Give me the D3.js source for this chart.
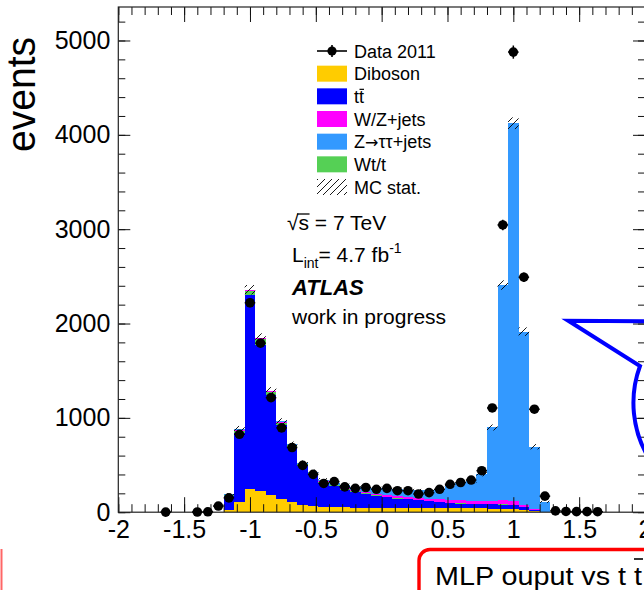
<!DOCTYPE html>
<html>
<head>
<meta charset="utf-8">
<script src="https://cdn.jsdelivr.net/npm/d3@7"></script>
<style>
body { margin: 0; background: #fff; }
svg { display: block; }
text { font-family: "Liberation Sans", Arial, sans-serif; }
</style>
</head>
<body>
<div id="chart"></div>
<script>
var width = 644,
    height = 590;

// histogram binning: 50 bins of 0.08 from -2 to 2
var nBins = 50, xLow = -2, binW = 0.08;

// data 2011 (null = no marker)
var data2011 = [null, null, null, null, 1, null, null, 2, 4, 65,
    152, 826, 2220, 1792, 1214, 894, 686, 496, 401, 305,
    324, 268, 253, 262, 243, 253, 228, 228, 193, 207,
    243, 296, 315, 341, 440, 1105, 3045, 4877, 2491, 1092,
    170, 14, 8, 6, 6, 5, null, null, null, null];

// MC stack, bottom to top
var diboson = [0, 0, 0, 0, 0, 0, 0, 0, 0, 0,
    25, 111, 243, 228, 182, 137, 105, 76, 62, 56,
    52, 50, 48, 47, 46, 45, 44, 43, 42, 42,
    41, 40, 40, 40, 40, 38, 36, 30, 22, 8,
    2, 0, 0, 0, 0, 0, 0, 0, 0, 0];
var ttbar = [0, 0, 0, 0, 0, 0, 0, 0, 0, 0,
    150, 725, 2060, 1545, 1063, 788, 585, 419, 338, 254,
    223, 190, 167, 148, 129, 115, 101, 92, 83, 73,
    64, 58, 52, 48, 45, 44, 44, 45, 33, 17,
    3, 0, 0, 0, 0, 0, 0, 0, 0, 0];
var wtt = [0, 0, 0, 0, 0, 0, 0, 0, 0, 0,
    5, 30, 45, 65, 30, 25, 18, 14, 12, 10,
    9, 8, 7, 6, 6, 5, 5, 5, 4, 4,
    4, 4, 3, 3, 3, 3, 3, 3, 2, 1,
    0, 0, 0, 0, 0, 0, 0, 0, 0, 0];
var wzjets = [0, 0, 0, 0, 0, 0, 0, 0, 0, 0,
    3, 8, 10, 8, 8, 6, 5, 5, 5, 6,
    7, 8, 10, 12, 14, 16, 18, 20, 22, 24,
    26, 28, 30, 32, 34, 38, 45, 45, 20, 8,
    2, 0, 0, 0, 0, 0, 0, 0, 0, 0];
var ztautau = [0, 0, 0, 0, 0, 0, 0, 0, 0, 0,
    5, 5, 0, 5, 5, 8, 8, 10, 12, 15,
    20, 30, 40, 55, 60, 70, 75, 78, 80, 95,
    115, 145, 180, 205, 280, 775, 2280, 4000, 1837, 660,
    103, 0, 0, 0, 0, 0, 0, 0, 0, 0];
// MC statistical uncertainty (hatched band)
var mcStat = [0, 0, 0, 0, 0, 0, 0, 0, 0, 0,
    12, 35, 50, 45, 38, 32, 28, 24, 22, 20,
    18, 16, 16, 16, 16, 16, 16, 16, 16, 16,
    16, 17, 18, 19, 22, 32, 50, 62, 45, 28,
    12, 0, 0, 0, 0, 0, 0, 0, 0, 0];

var xMajor = [-2, -1.5, -1, -0.5, 0, 0.5, 1, 1.5, 2];
var yMajor = [0, 1000, 2000, 3000, 4000, 5000];

var keys = ["diboson", "ttbar", "wtt", "wzjets", "ztautau"];
var colors = {
    diboson: "#ffcc00",
    ttbar: "#0000ff",
    wtt: "#55d055",
    wzjets: "#ff00ff",
    ztautau: "#3399ff"
};
var legendItems = [
    {label: "Data 2011", type: "data"},
    {label: "Diboson", key: "diboson"},
    {label: "tt", key: "ttbar", bar: true},
    {label: "W/Z+jets", key: "wzjets"},
    {label: ["Z", "\u2192", "\u03c4\u03c4+jets"], key: "ztautau"},
    {label: "Wt/t", key: "wtt"},
    {label: "MC stat.", type: "stat"}
];

var svg = d3.select("#chart")
    .append("svg")
    .attr("width", width)
    .attr("height", height);

svg.append("rect").attr("width", width).attr("height", height).attr("fill", "#fff");

var defs = svg.append("defs");
defs.append("pattern")
    .attr("id", "hatch")
    .attr("patternUnits", "userSpaceOnUse")
    .attr("width", 7).attr("height", 7)
    .append("path")
    .attr("d", "M0,7 L7,0 M-1,1 L1,-1 M6,8 L8,6")
    .attr("stroke", "#000")
    .attr("stroke-width", 0.9);

var frame = {left: 118.3, right: 645, top: 7, bottom: 512.2};

var x = d3.scaleLinear().domain([-2, 2]).range([frame.left, frame.right]);
var y = d3.scaleLinear().domain([0, 5355]).range([frame.bottom, frame.top]);

var bins = d3.range(nBins).map(function (i) { return xLow + i * binW; });
var rows = bins.map(function (lo, i) {
    return {
        lo: lo,
        diboson: diboson[i],
        ttbar: ttbar[i],
        wtt: wtt[i],
        wzjets: wzjets[i],
        ztautau: ztautau[i]
    };
});
var stacked = d3.stack().keys(keys)(rows);

// stacked MC
var hist = svg.append("g").attr("class", "hist");
hist.selectAll("g")
    .data(stacked)
    .enter().append("g")
    .attr("fill", function (d) { return colors[d.key]; })
    .selectAll("rect")
    .data(function (d) { return d.filter(function (s) { return s[1] > s[0]; }); })
    .enter().append("rect")
    .attr("shape-rendering", "crispEdges")
    .attr("x", function (s) { return x(s.data.lo); })
    .attr("width", function (s) { return x(s.data.lo + binW) - x(s.data.lo); })
    .attr("y", function (s) { return y(s[1]); })
    .attr("height", function (s) { return y(s[0]) - y(s[1]); });

// MC stat band
var stackTop = stacked[stacked.length - 1];
hist.append("g")
    .selectAll("rect")
    .data(d3.range(nBins).filter(function (i) { return mcStat[i] > 0; }))
    .enter().append("rect")
    .attr("fill", "url(#hatch)")
    .attr("x", function (i) { return x(bins[i]); })
    .attr("width", function (i) { return x(bins[i] + binW) - x(bins[i]); })
    .attr("y", function (i) { return y(stackTop[i][1] + mcStat[i]); })
    .attr("height", function (i) { return y(stackTop[i][1] - mcStat[i]) - y(stackTop[i][1] + mcStat[i]); });

// axes
function fmt(d) { return String(+d.toFixed(1)); }
var xMinor = d3.range(-20, 21).map(function (i) { return i / 10; });
var yMinor = d3.range(0, 5201, 200);

function styleAxis(g) {
    g.select(".domain").remove();
    g.attr("font-size", 25)
        .attr("font-family", "'Liberation Sans', Arial, sans-serif");
    g.selectAll("line").attr("stroke", "#111").attr("stroke-width", 1);
    g.selectAll("text").attr("fill", "#000");
}

svg.append("g").attr("transform", "translate(0," + frame.bottom + ")")
    .call(d3.axisBottom(x).tickValues(xMinor).tickSize(-8).tickFormat(""))
    .call(styleAxis);
svg.append("g").attr("transform", "translate(0," + frame.bottom + ")")
    .call(d3.axisBottom(x).tickValues(xMajor).tickSize(-15).tickPadding(8).tickFormat(fmt))
    .call(styleAxis);
svg.append("g").attr("transform", "translate(0," + frame.top + ")")
    .call(d3.axisTop(x).tickValues(xMinor).tickSize(-8).tickFormat(""))
    .call(styleAxis);
svg.append("g").attr("transform", "translate(0," + frame.top + ")")
    .call(d3.axisTop(x).tickValues(xMajor).tickSize(-15).tickFormat(""))
    .call(styleAxis);
svg.append("g").attr("transform", "translate(" + frame.left + ",0)")
    .call(d3.axisLeft(y).tickValues(yMinor).tickSize(-7).tickFormat(""))
    .call(styleAxis);
svg.append("g").attr("transform", "translate(" + frame.left + ",0)")
    .call(d3.axisLeft(y).tickValues(yMajor).tickSize(-12).tickPadding(8).tickFormat(fmt))
    .call(styleAxis);
svg.append("g").attr("transform", "translate(" + frame.right + ",0)")
    .call(d3.axisRight(y).tickValues(yMinor).tickSize(-7).tickFormat(""))
    .call(styleAxis);
svg.append("g").attr("transform", "translate(" + frame.right + ",0)")
    .call(d3.axisRight(y).tickValues(yMajor).tickSize(-12).tickFormat(""))
    .call(styleAxis);

svg.append("rect")
    .attr("x", frame.left).attr("y", frame.top)
    .attr("width", frame.right - frame.left)
    .attr("height", frame.bottom - frame.top)
    .attr("fill", "none")
    .attr("stroke", "#222")
    .attr("stroke-width", 1.2);

// data points
var pts = svg.append("g").attr("class", "data");
var dataIdx = d3.range(nBins).filter(function (i) { return data2011[i] !== null; });
pts.selectAll("line.ex")
    .data(dataIdx)
    .enter().append("line")
    .attr("x1", function (i) { return x(bins[i]); })
    .attr("x2", function (i) { return x(bins[i] + binW); })
    .attr("y1", function (i) { return y(data2011[i]); })
    .attr("y2", function (i) { return y(data2011[i]); })
    .attr("stroke", "#000").attr("stroke-width", 1.5);
pts.selectAll("line.ey")
    .data(dataIdx)
    .enter().append("line")
    .attr("x1", function (i) { return x(bins[i] + binW / 2); })
    .attr("x2", function (i) { return x(bins[i] + binW / 2); })
    .attr("y1", function (i) { return y(data2011[i] - Math.sqrt(data2011[i])); })
    .attr("y2", function (i) { return y(data2011[i] + Math.sqrt(data2011[i])); })
    .attr("stroke", "#000").attr("stroke-width", 1.5);
pts.selectAll("circle")
    .data(dataIdx)
    .enter().append("circle")
    .attr("cx", function (i) { return x(bins[i] + binW / 2); })
    .attr("cy", function (i) { return y(data2011[i]); })
    .attr("r", 4.8)
    .attr("fill", "#000");

// legend
var legY = d3.scaleLinear().domain([0, 6]).range([51, 187]);
var leg = svg.append("g").attr("class", "legend");
legendItems.forEach(function (d, i) {
    var cy = legY(i);
    if (d.type === "data") {
        leg.append("line").attr("x1", 317).attr("x2", 347).attr("y1", cy).attr("y2", cy)
            .attr("stroke", "#000").attr("stroke-width", 1.6);
        leg.append("line").attr("x1", 332).attr("x2", 332).attr("y1", cy - 6).attr("y2", cy + 6)
            .attr("stroke", "#000").attr("stroke-width", 1.6);
        leg.append("circle").attr("cx", 332).attr("cy", cy).attr("r", 4.6).attr("fill", "#000");
    } else if (d.type === "stat") {
        leg.append("rect").attr("x", 317).attr("y", cy - 8).attr("width", 30).attr("height", 16)
            .attr("fill", "url(#hatch)");
    } else {
        leg.append("rect").attr("x", 317).attr("y", cy - 8).attr("width", 30).attr("height", 16)
            .attr("fill", colors[d.key]);
    }
    var t = leg.append("text")
        .attr("x", 354).attr("y", cy + 6.5)
        .attr("font-size", 18);
    if (Array.isArray(d.label)) {
        t.append("tspan").text(d.label[0]);
        t.append("tspan").attr("font-family", "'DejaVu Sans', sans-serif").attr("font-size", 16).text(d.label[1]);
        t.append("tspan").text(d.label[2]);
    } else {
        t.text(d.label);
    }
    if (d.bar) {
        var e = t.node().getExtentOfChar(1);
        leg.append("line")
            .attr("x1", e.x + 0.5).attr("x2", e.x + e.width)
            .attr("y1", cy - 7).attr("y2", cy - 7)
            .attr("stroke", "#000").attr("stroke-width", 1.2);
    }
});

// labels
var info = svg.append("g").attr("class", "info");
var sq = info.append("text").attr("x", 287).attr("y", 230).attr("font-size", 21)
    .text("\u221as = 7 TeV");
var es = sq.node().getExtentOfChar(1);
var er = sq.node().getExtentOfChar(0);
info.append("line")
    .attr("x1", er.x + er.width - 1.5).attr("x2", es.x + es.width + 0.5)
    .attr("y1", 214).attr("y2", 214)
    .attr("stroke", "#000").attr("stroke-width", 1.3);

var lint = info.append("text").attr("x", 292).attr("y", 262).attr("font-size", 21);
lint.append("tspan").text("L");
lint.append("tspan").attr("font-size", 14).attr("dy", 6).text("int");
lint.append("tspan").attr("dy", -6).text("= 4.7 fb");
lint.append("tspan").attr("font-size", 14).attr("dy", -9).text("-1");

info.append("text").attr("x", 292).attr("y", 295).attr("font-size", 22)
    .attr("font-weight", "bold").attr("font-style", "italic").text("ATLAS");
info.append("text").attr("x", 292).attr("y", 324).attr("font-size", 21)
    .text("work in progress");

// y title
svg.append("text")
    .attr("transform", "translate(35,94.5) rotate(-90)")
    .attr("text-anchor", "middle")
    .attr("font-family", "'Open Sans', sans-serif")
    .attr("font-size", 40)
    .attr("textLength", 115)
    .attr("lengthAdjust", "spacingAndGlyphs")
    .text("events");

// blue callout
svg.append("path")
    .attr("d", "M671,321.5 L568.3,320.7 L640,366 A107,107 0 1 0 671,321.5")
    .attr("fill", "none")
    .attr("stroke", "#0000ff")
    .attr("stroke-width", 4)
    .attr("stroke-linejoin", "miter");

// red caption box
svg.append("rect")
    .attr("x", 419).attr("y", 549.5)
    .attr("width", 300).attr("height", 70)
    .attr("rx", 11)
    .attr("fill", "#fff")
    .attr("stroke", "#ff0000")
    .attr("stroke-width", 3.4);
svg.append("line")
    .attr("x1", 1.5).attr("x2", 1.5).attr("y1", 549).attr("y2", 590)
    .attr("stroke", "#ff6666").attr("stroke-width", 2);
var cap = svg.append("text")
    .attr("x", 435).attr("y", 585)
    .attr("font-family", "'Open Sans', sans-serif")
    .attr("font-size", 26)
    .attr("textLength", 207)
    .attr("lengthAdjust", "spacingAndGlyphs")
    .text("MLP ouput vs t t");
var ec = cap.node().getExtentOfChar(15);
svg.append("line")
    .attr("x1", ec.x).attr("x2", ec.x + ec.width + 1)
    .attr("y1", 559).attr("y2", 559)
    .attr("stroke", "#000").attr("stroke-width", 1.6);
</script>
</body>
</html>
